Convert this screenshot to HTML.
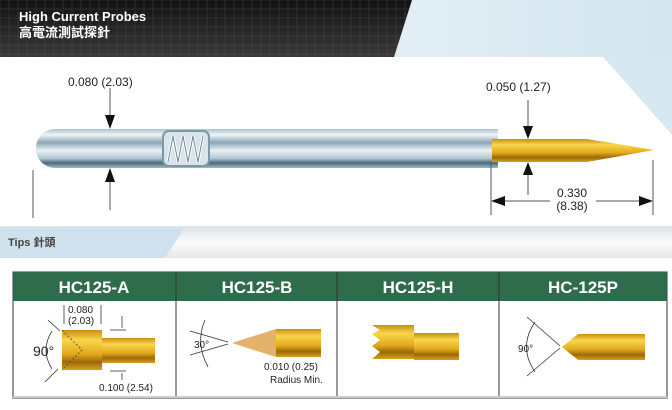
<!DOCTYPE html>
<html><head><meta charset="utf-8"><style>
html,body{margin:0;padding:0;background:#fff}
svg{display:block}
text{font-family:"Liberation Sans","Noto Sans CJK TC",sans-serif}
</style></head><body>
<svg width="672" height="410" viewBox="0 0 672 410" xmlns="http://www.w3.org/2000/svg">
<defs>
<linearGradient id="sky" x1="0" y1="0" x2="1" y2="0"><stop offset="0" stop-color="#f6fafc"/><stop offset="1" stop-color="#d4e6f0"/></linearGradient>
<linearGradient id="dark" x1="0" y1="0" x2="0" y2="1"><stop offset="0" stop-color="#111"/><stop offset="1" stop-color="#3a3a3a"/></linearGradient>
<linearGradient id="body" x1="0" y1="0" x2="0" y2="1"><stop offset="0" stop-color="#a9c2d0"/><stop offset=".15" stop-color="#eef4f7"/><stop offset=".35" stop-color="#8aa6b7"/><stop offset=".55" stop-color="#eaf1f5"/><stop offset=".75" stop-color="#b3c8d4"/><stop offset=".87" stop-color="#4d697b"/><stop offset="1" stop-color="#a2bac7"/></linearGradient>
<linearGradient id="gold" x1="0" y1="0" x2="0" y2="1"><stop offset="0" stop-color="#c98f10"/><stop offset=".25" stop-color="#f8d64a"/><stop offset=".6" stop-color="#e3a81c"/><stop offset=".8" stop-color="#9a6a08"/><stop offset="1" stop-color="#d9a020"/></linearGradient>
<linearGradient id="band" x1="0" y1="0" x2="0" y2="1"><stop offset="0" stop-color="#e2e4e6"/><stop offset=".5" stop-color="#fafafa"/><stop offset="1" stop-color="#e6e8ea"/></linearGradient>
<pattern id="grid" width="9" height="9" patternUnits="userSpaceOnUse"><rect width="9" height="9" fill="none" stroke="#555" stroke-opacity=".35" stroke-width="1"/></pattern>
</defs>
<rect width="672" height="410" fill="#fff"/>
<rect x="0" y="0" width="672" height="60" fill="url(#sky)"/>
<polygon points="0,57 603,57 672,135 672,225 0,225" fill="#fff"/>
<polygon points="603,57 672,57 672,135" fill="#d8e8f1"/>
<polygon points="0,0 412,0 394,57 0,57" fill="url(#dark)"/>
<polygon points="0,0 412,0 394,57 0,57" fill="url(#grid)"/>
<text x="19" y="21" font-size="13" font-weight="bold" fill="#fff">High Current Probes</text>
<text x="19" y="37" font-size="13" font-weight="bold" fill="#fff">高電流測試探針</text>
<rect x="36" y="129" width="462" height="39" rx="19" fill="url(#body)"/>
<rect x="470" y="129" width="28" height="39" fill="url(#body)"/>
<rect x="163" y="131" width="46" height="35" rx="6" fill="#d8e4ea" stroke="#7d98a8" stroke-width="2"/>
<path d="M168,162 L173,136 L178,162 L183,136 L188,162 L193,136 L198,162 L203,136" fill="none" stroke="#fff" stroke-width="3"/>
<path d="M168,162 L173,136 L178,162 L183,136 L188,162 L193,136 L198,162 L203,136" fill="none" stroke="#6d8796" stroke-width="1"/>
<rect x="492" y="139" width="95" height="23" fill="url(#gold)"/>
<polygon points="587,139 654,150 587,162" fill="url(#gold)"/>
<g stroke="#555" stroke-width="1" fill="none">
<line x1="110" y1="88" x2="110" y2="124"/>
<line x1="110" y1="174" x2="110" y2="210"/>
<line x1="528" y1="100" x2="528" y2="136"/>
<line x1="528" y1="165" x2="528" y2="195"/>
<line x1="33" y1="170" x2="33" y2="218"/>
<line x1="491" y1="162" x2="491" y2="215"/>
<line x1="653" y1="160" x2="653" y2="215"/>
<line x1="495" y1="201" x2="550" y2="201"/>
<line x1="596" y1="201" x2="649" y2="201"/>
</g>
<g fill="#111">
<polygon points="105,115 110,129 115,115"/>
<polygon points="105,182 110,168 115,182"/>
<polygon points="523,126 528,139 533,126"/>
<polygon points="523,175 528,162 533,175"/>
<polygon points="491,201 505,196 505,206"/>
<polygon points="653,201 639,196 639,206"/>
</g>
<text x="68" y="86" font-size="12" fill="#222">0.080 (2.03)</text>
<text x="486" y="91" font-size="12" fill="#222">0.050 (1.27)</text>
<text x="572" y="197" font-size="12" fill="#222" text-anchor="middle">0.330</text>
<text x="572" y="210" font-size="12" fill="#222" text-anchor="middle">(8.38)</text>
<rect x="0" y="227" width="672" height="31" fill="url(#band)"/>
<polygon points="0,227 185,227 165,258 0,258" fill="#cfe1ec"/>
<rect x="0" y="226" width="672" height="2" fill="#d7e6ee"/>
<text x="8" y="246" font-size="11" font-weight="bold" fill="#444">Tips 針頭</text>
<rect x="13" y="272" width="654" height="126" fill="#fff" stroke="#333" stroke-width="1"/>
<rect x="13" y="272" width="654" height="29" fill="#2f6c4c"/>
<g stroke="#333" stroke-width="1">
<line x1="176" y1="272" x2="176" y2="397"/>
<line x1="337" y1="272" x2="337" y2="397"/>
<line x1="499" y1="272" x2="499" y2="397"/>
</g>
<line x1="13" y1="397" x2="667" y2="397" stroke="#ccc" stroke-width="2"/>
<g font-size="17" font-weight="bold" fill="#fff" text-anchor="middle">
<text x="94" y="293">HC125-A</text>
<text x="257" y="293">HC125-B</text>
<text x="418" y="293">HC125-H</text>
<text x="583" y="293">HC-125P</text>
</g>
<rect x="62" y="330" width="40" height="40" fill="url(#gold)"/>
<rect x="102" y="338" width="53" height="25" fill="url(#gold)"/>
<path d="M62,330 L82,350 L62,370" stroke="#654" stroke-dasharray="2,2" fill="none"/>
<g stroke="#333" fill="none" stroke-width=".8">
<line x1="48" y1="320" x2="60" y2="331"/><line x1="58" y1="369" x2="45" y2="382"/>
<path d="M52,331 Q40,350 52,369"/>
<line x1="64" y1="305" x2="64" y2="324"/><line x1="101" y1="305" x2="101" y2="324"/>
<line x1="110" y1="330" x2="126" y2="330"/><line x1="110" y1="371" x2="126" y2="371"/>
<line x1="122" y1="316" x2="122" y2="328"/><line x1="122" y1="373" x2="122" y2="380"/>
</g>
<text x="68" y="313" font-size="10" fill="#222">0.080</text>
<text x="68" y="324" font-size="10" fill="#222">(2.03)</text>
<text x="33" y="356" font-size="14" fill="#222">90°</text>
<text x="99" y="391" font-size="10" fill="#222">0.100 (2.54)</text>
<polygon points="232,343 276,329 276,357" fill="#e4b26a"/>
<rect x="276" y="329" width="45" height="28" fill="url(#gold)"/>
<g stroke="#333" fill="none" stroke-width=".8">
<line x1="190" y1="331" x2="228" y2="342"/><line x1="190" y1="355" x2="228" y2="344"/>
<path d="M205,320 Q195,343 208,367"/>
</g>
<text x="194" y="348" font-size="10" fill="#222">30°</text>
<text x="264" y="370" font-size="10" fill="#222">0.010 (0.25)</text>
<text x="270" y="383" font-size="10" fill="#222">Radius Min.</text>
<polygon points="372,325 414,325 414,359 372,359 380,352 372,346 380,340 372,334 380,330" fill="url(#gold)"/>
<rect x="414" y="333" width="45" height="27" fill="url(#gold)"/>
<polygon points="562,347 578,334 645,334 645,360 578,360" fill="url(#gold)"/>
<g stroke="#333" fill="none" stroke-width=".8">
<line x1="527" y1="317" x2="560" y2="346"/><line x1="527" y1="376" x2="560" y2="348"/>
<path d="M535,322 Q518,347 535,372"/>
</g>
<text x="518" y="352" font-size="10" fill="#222">90°</text>
</svg>
</body></html>
